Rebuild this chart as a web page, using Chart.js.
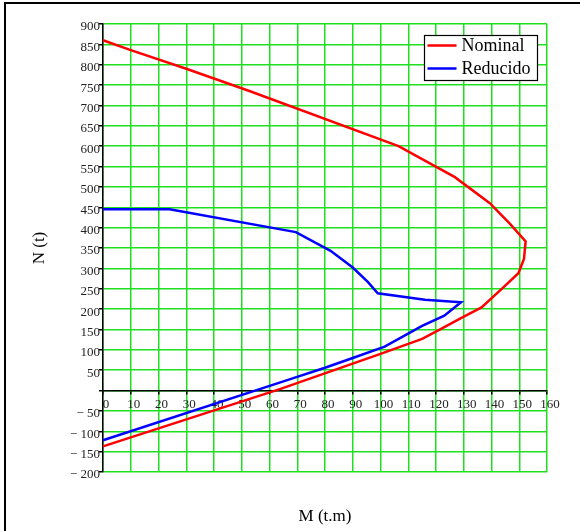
<!DOCTYPE html>
<html>
<head>
<meta charset="utf-8">
<script src="https://cdn.jsdelivr.net/npm/chart.js@4"></script>
<style>
  body { margin: 0; background: #fff; }
  #wrap { position: relative; width: 580px; height: 531px; }
  #frame {
    position: absolute; left: 4px; top: 2px; right: 0; bottom: 0;
    border-top: 2px solid #000; border-left: 2px solid #000;
    pointer-events: none;
  }
</style>
</head>
<body>
<div id="wrap">
  <canvas id="chart" width="580" height="531"></canvas>
  <div id="frame"></div>
</div>
<script>
// Diagrama de interacción: Nominal
const mNominal = [0, 10, 30, 53, 106.5, 126.8, 139.4, 146.6, 152.3, 151.7, 149.7, 143.6, 136.4, 129, 122, 115, 100, 64, 0];
const nNominal = [860, 836, 790, 735, 600, 524, 460, 410, 366, 323, 288, 249, 204, 178, 152, 127, 90, 4, -137];

// Diagrama de interacción: Reducido
const mReducido = [0, 24, 69.5, 82, 90, 95.5, 99, 116, 129, 123, 115, 101.5, 90, 80, 67.5, 0];
const nReducido = [445, 445, 389, 343, 302, 266, 239, 223, 217, 184, 159, 108, 80, 56, 28, -122];

const seriesNames = ["Nominal", "Reducido"];
const seriesColors = ["#ff0000", "#0000ff"];
const xTitle = "M (t.m)";
const yTitle = "N (t)";

const serif = "'Liberation Serif', 'Times New Roman', serif";
const gridGreen = "#1fe01f";

function toPoints(xs, ys) {
  return xs.map((x, i) => ({ x: x, y: ys[i] }));
}

// títulos de ejes y leyenda con recuadro
const extras = {
  id: "extras",
  afterDraw(chart) {
    const ctx = chart.ctx;
    const area = chart.chartArea;
    ctx.save();
    ctx.fillStyle = "#000";
    ctx.font = "17px " + serif;
    ctx.textAlign = "center";
    ctx.textBaseline = "middle";
    ctx.fillText(xTitle, (area.left + area.right) / 2, 517);
    ctx.translate(40, (area.top + area.bottom) / 2);
    ctx.rotate(-Math.PI / 2);
    ctx.fillText(yTitle, 0, 0);
    ctx.restore();

    // leyenda
    const bw = 113, bh = 45;
    const bx = Math.round(area.right - 10 - bw) + 0.5;
    const by = Math.round(area.top + 11) + 0.5;
    ctx.save();
    ctx.fillStyle = "#fff";
    ctx.fillRect(bx, by, bw, bh);
    ctx.strokeStyle = "#000";
    ctx.lineWidth = 1.2;
    ctx.strokeRect(bx, by, bw, bh);
    ctx.font = "18px " + serif;
    ctx.textAlign = "left";
    ctx.textBaseline = "middle";
    chart.data.datasets.forEach((ds, i) => {
      const y = by + 10 + i * 23;
      ctx.strokeStyle = ds.borderColor;
      ctx.lineWidth = 2.5;
      ctx.beginPath();
      ctx.moveTo(bx + 3, y);
      ctx.lineTo(bx + 32, y);
      ctx.stroke();
      ctx.fillStyle = "#000";
      ctx.fillText(ds.label, bx + 37, y + 1);
    });
    ctx.restore();
  }
};

new Chart(document.getElementById("chart"), {
  type: "scatter",
  data: {
    datasets: [
      {
        label: seriesNames[0],
        data: toPoints(mNominal, nNominal),
        borderColor: seriesColors[0],
        backgroundColor: seriesColors[0],
        showLine: true,
        borderWidth: 2.5,
        pointRadius: 0,
        tension: 0,
        clip: false,
      },
      {
        label: seriesNames[1],
        data: toPoints(mReducido, nReducido),
        borderColor: seriesColors[1],
        backgroundColor: seriesColors[1],
        showLine: true,
        borderWidth: 2.5,
        pointRadius: 0,
        tension: 0,
        clip: false,
      },
    ],
  },
  options: {
    responsive: false,
    animation: false,
    layout: { padding: { left: 0, top: 24, right: 33, bottom: 59 } },
    plugins: {
      legend: { display: false },
      tooltip: { enabled: false },
    },
    scales: {
      x: {
        type: "linear",
        min: 0,
        max: 160,
        position: { y: 0 },
        grid: { color: gridGreen, lineWidth: 1.5, tickColor: "#000", tickLength: 3 },
        border: { color: "#000", width: 1.5 },
        ticks: {
          stepSize: 10,
          autoSkip: false,
          maxRotation: 0,
          labelOffset: 3,
          padding: 3,
          color: "#222",
          font: { family: serif, size: 13 },
        },
      },
      y: {
        type: "linear",
        min: -200,
        max: 900,
        position: "left",
        afterFit: (s) => { s.width = 103; },
        grid: { color: gridGreen, lineWidth: 1.5, tickColor: "#000", tickLength: 4 },
        border: { color: "#000", width: 1.5 },
        ticks: {
          stepSize: 50,
          autoSkip: false,
          labelOffset: 3,
          padding: -1,
          color: "#222",
          font: { family: serif, size: 13 },
          callback: (v) => (v === 0 ? "" : v < 0 ? "\u2212 " + (-v) : String(v)),
        },
      },
    },
  },
  plugins: [extras],
});
</script>
</body>
</html>
